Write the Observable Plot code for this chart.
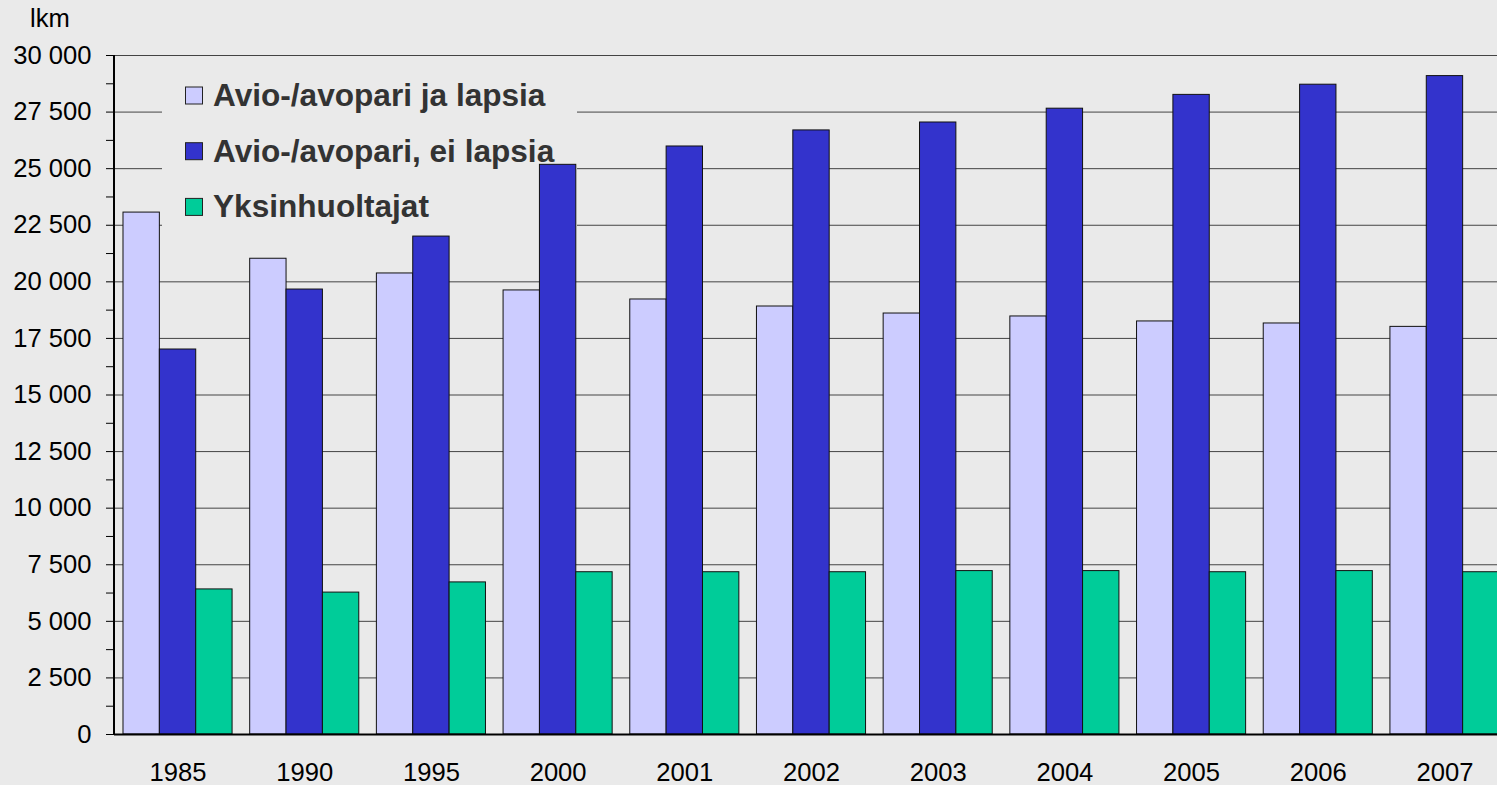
<!DOCTYPE html>
<html>
<head>
<meta charset="utf-8">
<script src="https://cdn.jsdelivr.net/npm/d3@7"></script>
<script src="https://cdn.jsdelivr.net/npm/@observablehq/plot@0.6"></script>
<style>
  html, body { margin: 0; padding: 0; background: #eaeaea; overflow: hidden; }
  #wrap { width: 1497px; height: 785px; overflow: hidden; position: relative; }
</style>
</head>
<body>
<div id="wrap"></div>
<script>
// ---- data ----
const years = ["1985","1990","1995","2000","2001","2002","2003","2004","2005","2006","2007"];
const seriesNames = ["Avio-/avopari ja lapsia", "Avio-/avopari, ei lapsia", "Yksinhuoltajat"];
const withChildren = [23060, 21020, 20370, 19620, 19220, 18910, 18600, 18470, 18250, 18160, 18010];
const noChildren   = [17010, 19660, 22000, 25170, 25980, 26690, 27040, 27650, 28260, 28710, 29090];
const singleParent = [6410, 6270, 6720, 7170, 7170, 7170, 7220, 7220, 7170, 7220, 7170];
const seriesColors = ["#ccccff", "#3333cc", "#00cc99"];
const majorTicks = d3.range(0, 30001, 2500);
const minorTicks = d3.range(1250, 30000, 2500);
const yUnit = "lkm";

const seriesValues = [withChildren, noChildren, singleParent];
const rows = [];
seriesValues.forEach((vals, si) => vals.forEach((v, i) => rows.push({year: years[i], series: si, value: v})));

const fmtLocale = d3.formatLocale({decimal: ",", thousands: "\u00a0", grouping: [3], currency: ["", ""]});
const fmt = fmtLocale.format(",d");

const W = 1508, H = 785, mL = 114, mR = 0, mT = 55, mB = 51;
const pInner = 0.139, pOuter = 0.071;
const bw = d3.scaleBand().domain(years).range([mL, W - mR]).paddingInner(pInner).paddingOuter(pOuter).bandwidth();
const bg = "#eaeaea";
const fs = 25.6;

const chart = Plot.plot({
  width: W, height: H,
  marginTop: mT, marginBottom: mB, marginLeft: mL, marginRight: mR,
  style: {background: bg, fontFamily: "'Liberation Sans', Arial, sans-serif", fontSize: fs + "px", color: "#000", maxWidth: "none", overflow: "visible"},
  x: {domain: years, paddingInner: pInner, paddingOuter: pOuter, round: false},
  y: {domain: [0, 30000]},
  marks: [
    Plot.ruleY(majorTicks.filter(d => d > 0), {stroke: "#444", strokeWidth: 1}),
    ...seriesNames.map((name, si) => Plot.barY(rows.filter(r => r.series === si), {
      x: "year", y: "value", fill: seriesColors[si], stroke: "#111", strokeWidth: 1,
      insetLeft: si * bw / 3, insetRight: (2 - si) * bw / 3
    })),
    Plot.ruleY([0], {stroke: "#000", strokeWidth: 2}),
    Plot.axisX({tickSize: 0, tickPadding: 28, fontSize: fs, label: null}),
    Plot.axisY({ticks: majorTicks, tickFormat: fmt, tickSize: 8, tickPadding: 15, fontSize: fs, label: null, stroke: "#000"}),
    Plot.axisY({ticks: minorTicks, tickFormat: () => "", tickSize: 8, label: null, stroke: "#000"})
  ]
});

document.getElementById("wrap").appendChild(chart);

// ---- post-processing: legend box, legend, y-axis line, unit label ----
const svg = d3.select(chart);
const ys = chart.scale("y");
const legendBox = {x: 162, y: 65, w: 415, h: 170};
const firstBar = chart.querySelector('g[aria-label="bar"]');
const boxRect = document.createElementNS("http://www.w3.org/2000/svg", "rect");
d3.select(boxRect)
  .attr("x", legendBox.x).attr("y", legendBox.y)
  .attr("width", legendBox.w).attr("height", legendBox.h)
  .attr("fill", bg);
if (firstBar) firstBar.parentNode.insertBefore(boxRect, firstBar);

svg.append("line")
  .attr("x1", mL).attr("x2", mL)
  .attr("y1", ys.apply(0)).attr("y2", ys.apply(30000))
  .attr("stroke", "#000").attr("stroke-width", 2);

const lg = svg.append("g").attr("class", "legend").attr("text-anchor", "start");
seriesNames.forEach((name, i) => {
  const y0 = 87 + i * 55.7;
  lg.append("rect").attr("x", 185.5).attr("y", y0).attr("width", 17).attr("height", 17)
    .attr("fill", seriesColors[i]).attr("stroke", "#222").attr("stroke-width", 1);
  lg.append("text").attr("x", 213).attr("y", y0 + 19)
    .attr("text-anchor", "start")
    .attr("fill", "#333").attr("font-weight", "bold").attr("font-size", "31.6px")
    .attr("font-family", "'Liberation Sans', Arial, sans-serif")
    .text(name);
});

svg.append("text").attr("x", 30).attr("y", 27)
  .attr("text-anchor", "start")
  .attr("font-size", fs + "px").attr("fill", "#000")
  .attr("font-family", "'Liberation Sans', Arial, sans-serif")
  .text(yUnit);
</script>
</body>
</html>
